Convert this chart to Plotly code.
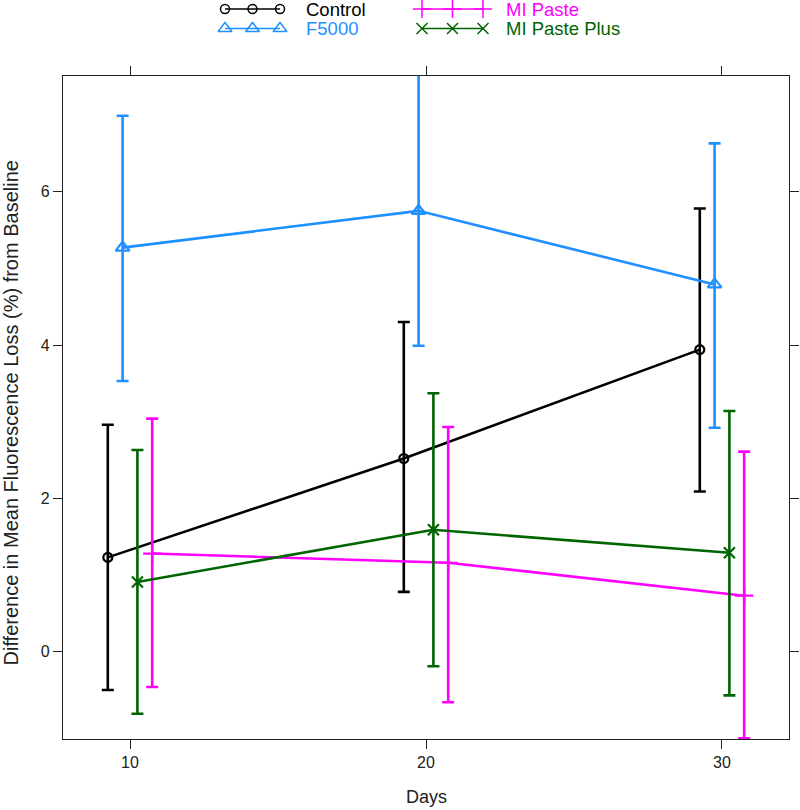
import plotly.graph_objects as go

# ---------------- data ----------------
days = [10, 20, 30]
series_names = ["Control", "F5000", "MI Paste", "MI Paste Plus"]
dodge = [-0.75, -0.25, 0.75, 0.25]

control_mean = [1.23, 2.52, 3.94]
control_upper = [2.96, 4.30, 5.78]
control_lower = [-0.50, 0.78, 2.09]

f5000_mean = [5.27, 5.75, 4.79]
f5000_upper = [6.99, 7.55, 6.63]
f5000_lower = [3.53, 3.99, 2.92]

mipaste_mean = [1.28, 1.16, 0.73]
mipaste_upper = [3.04, 2.93, 2.61]
mipaste_lower = [-0.46, -0.66, -1.13]

mipplus_mean = [0.91, 1.59, 1.29]
mipplus_upper = [2.63, 3.37, 3.14]
mipplus_lower = [-0.81, -0.19, -0.57]

y_ticks = [0, 2, 4, 6]
x_ticks = [10, 20, 30]
x_title = "Days"
y_title = "Difference in Mean Fluorescence Loss (%) from Baseline"

# ---------------- styles ----------------
colors = ["#000000", "#1E90FF", "#FF00FF", "#006400"]
symbols = ["circle-open", "triangle-up-open", "cross-thin-open", "x-thin-open"]
msizes = [9, 12, 13, 11]

means = [control_mean, f5000_mean, mipaste_mean, mipplus_mean]
uppers = [control_upper, f5000_upper, mipaste_upper, mipplus_upper]
lowers = [control_lower, f5000_lower, mipaste_lower, mipplus_lower]

W, H = 800, 810
L, R, T, B = 63, 789, 76, 739  # plot frame in pixels
FONT = "Liberation Sans, Arial, sans-serif"

fig = go.Figure()

for i in range(4):
    xs = [d + dodge[i] for d in days]
    m = means[i]
    up = [u - v for u, v in zip(uppers[i], m)]
    lo = [v - l for v, l in zip(m, lowers[i])]
    fig.add_trace(go.Scatter(
        x=xs, y=m, mode="lines+markers", name=series_names[i],
        xaxis="x", yaxis="y",
        line=dict(color=colors[i], width=2.6),
        marker=dict(symbol=symbols[i], size=msizes[i], color=colors[i],
                    line=dict(color=colors[i], width=2.2)),
        error_y=dict(type="data", symmetric=False, array=up, arrayminus=lo,
                     color=colors[i], thickness=2.6, width=6),
        showlegend=False, cliponaxis=True,
    ))

# ---------------- custom legend (lattice style key) ----------------
key_cols = [(225, 280, 305), (422, 483, 505)]
key_rows = [9, 28.5]
for i, name in enumerate(series_names):
    col = i // 2
    row = i % 2
    x0, x1, tx = key_cols[col]
    yy = key_rows[row]
    fig.add_trace(go.Scatter(
        x=[x0, (x0 + x1) / 2, x1], y=[yy, yy, yy], mode="lines+markers",
        xaxis="x2", yaxis="y2",
        line=dict(color=colors[i], width=1.5),
        marker=dict(symbol=symbols[i], size=msizes[i], color=colors[i],
                    line=dict(color=colors[i], width=1.5)),
        showlegend=False, hoverinfo="skip", cliponaxis=False,
    ))
    fig.add_annotation(x=tx, y=yy, xref="x2", yref="y2", text=name,
                       showarrow=False, xanchor="left", yanchor="middle",
                       borderpad=0,
                       font=dict(family=FONT, size=18.5, color=colors[i]))

# axis titles
fig.add_annotation(x=(L + R) / 2, y=797, xref="x2", yref="y2", text=x_title,
                   showarrow=False, xanchor="center", yanchor="middle",
                   font=dict(family=FONT, size=18, color="#222"))
fig.add_annotation(x=10.5, y=413, xref="x2", yref="y2", text=y_title,
                   showarrow=False, xanchor="center", yanchor="middle",
                   textangle=-90, borderpad=0,
                   font=dict(family=FONT, size=20, color="#222"))

axis_common = dict(
    showgrid=False, zeroline=False, showline=True, linecolor="#222",
    linewidth=1.3, mirror="ticks", ticks="outside", ticklen=9, tickwidth=1.3,
    tickcolor="#222", tickfont=dict(family=FONT, size=16, color="#222"),
    automargin=False,
)

fig.update_layout(
    width=W, height=H,
    margin=dict(l=0, r=0, t=0, b=0, pad=0, autoexpand=False),
    paper_bgcolor="white", plot_bgcolor="rgba(0,0,0,0)",
    xaxis=dict(domain=[L / W, R / W], range=[7.736, 32.264], anchor="y",
               tickvals=x_ticks, ticktext=[str(v) for v in x_ticks],
               **axis_common),
    yaxis=dict(domain=[1 - B / H, 1 - T / H], range=[-1.139, 7.509], anchor="x",
               tickvals=y_ticks, ticktext=[str(v) for v in y_ticks],
               **axis_common),
    xaxis2=dict(domain=[0, 1], range=[0, W], visible=False, fixedrange=True,
                anchor="y2"),
    yaxis2=dict(domain=[0, 1], range=[H, 0], visible=False, fixedrange=True,
                anchor="x2"),
    showlegend=False,
)

fig.write_html("out.html",
               config={"displayModeBar": False},
               post_script="document.body.style.margin='0px';")
